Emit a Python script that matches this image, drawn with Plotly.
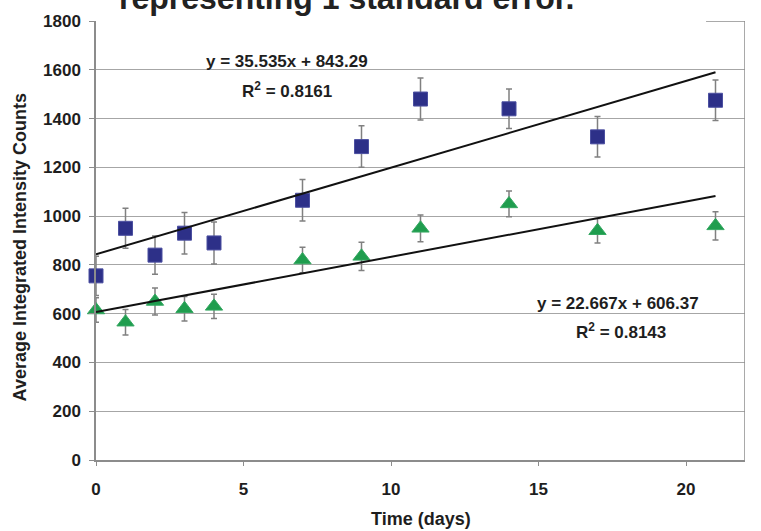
import plotly.graph_objects as go

# ---- data ----
days = [0, 1, 2, 3, 4, 7, 9, 11, 14, 17, 21]
blue_vals = [755, 950, 840, 930, 890, 1065, 1285, 1480, 1440, 1325, 1475]
blue_err = [80, 82, 78, 85, 86, 85, 85, 86, 81, 83, 83]
green_vals = [615, 565, 650, 620, 630, 820, 835, 950, 1050, 940, 960]
green_err = [50, 52, 55, 50, 50, 52, 58, 55, 53, 50, 58]

blue_fit = (35.535, 843.29)   # slope, intercept (from chart label)
green_fit = (22.667, 606.37)
fit_x = [0, 21]

blue_eq = "y = 35.535x + 843.29"
blue_r2 = "R<sup>2</sup> = 0.8161"
green_eq = "y = 22.667x + 606.37"
green_r2 = "R<sup>2</sup> = 0.8143"

x_ticks = [0, 5, 10, 15, 20]
y_ticks = [0, 200, 400, 600, 800, 1000, 1200, 1400, 1600, 1800]

title_text = "representing 1 standard error."
x_title = "Time (days)"
y_title = "Average Integrated Intensity Counts"

FONT = "Liberation Sans"
TXT = "#1e1e1e"
GRID = "#a6a6a6"
AXIS = "#8c8c8c"
BLUE = "#2d3088"
GREEN = "#1f9d4e"
ERR = "#808080"

fig = go.Figure()

fig.add_trace(go.Scatter(
    x=days, y=blue_vals, mode="markers",
    marker=dict(symbol="square", size=14, color=BLUE, line=dict(color="#4b4fa0", width=1)),
    error_y=dict(type="data", array=blue_err, visible=True, color=ERR, thickness=1.5, width=3),
    showlegend=False, cliponaxis=False))

fig.add_trace(go.Scatter(
    x=days, y=green_vals, mode="markers",
    marker=dict(symbol="triangle-up", size=15, color=GREEN, line=dict(color="#35a862", width=1)),
    error_y=dict(type="data", array=green_err, visible=True, color=ERR, thickness=1.5, width=3),
    showlegend=False, cliponaxis=False))

for slope, icpt in (blue_fit, green_fit):
    fig.add_trace(go.Scatter(
        x=fit_x, y=[icpt + slope * v for v in fit_x], mode="lines",
        line=dict(color="#111111", width=2), showlegend=False, hoverinfo="skip"))

# frame: right border, partial top border, white strip under the title
fig.add_shape(type="line", xref="x", yref="y", x0=22, x1=22, y0=0, y1=1800,
              line=dict(color=AXIS, width=1.5), layer="above")
fig.add_shape(type="rect", xref="paper", yref="paper", x0=0.004, x1=0.94, y0=0.992, y1=1.01,
              fillcolor="white", line=dict(width=0), layer="above")
fig.add_shape(type="line", xref="x", yref="y", x0=20.68, x1=22, y0=1800, y1=1800,
              line=dict(color=AXIS, width=1.5), layer="above")

ann_font = dict(family=FONT, size=17, color=TXT)
fig.add_annotation(x=6.47, y=1634, xref="x", yref="y", text="<b>" + blue_eq + "</b>",
                   showarrow=False, font=ann_font)
fig.add_annotation(x=6.47, y=1517, xref="x", yref="y", text="<b>" + blue_r2 + "</b>",
                   showarrow=False, font=ann_font)
fig.add_annotation(x=17.7, y=640, xref="x", yref="y", text="<b>" + green_eq + "</b>",
                   showarrow=False, font=ann_font)
fig.add_annotation(x=17.8, y=531, xref="x", yref="y", text="<b>" + green_r2 + "</b>",
                   showarrow=False, font=ann_font)

fig.add_annotation(x=(346 - 96) / 649, y=(460 - 10.5) / 446, xref="paper", yref="paper",
                   xanchor="center", yanchor="bottom", text="<b>" + title_text + "</b>",
                   showarrow=False, font=dict(family=FONT, size=32, color="#222222"))

fig.add_annotation(x=(421 - 96) / 649, y=(460 - 520) / 446, xref="paper", yref="paper",
                   xanchor="center", yanchor="middle", text="<b>" + x_title + "</b>",
                   showarrow=False, font=dict(family=FONT, size=18, color=TXT))
fig.add_annotation(x=(20 - 96) / 649, y=(460 - 244) / 446, xref="paper", yref="paper",
                   xanchor="center", yanchor="middle",
                   text="<b>" + y_title + "</b>", textangle=-90, showarrow=False,
                   font=dict(family=FONT, size=18, color=TXT))

fig.update_xaxes(range=[0, 22], tickvals=x_ticks, ticks="outside", ticklen=4, tickcolor=AXIS,
                 showline=True, linecolor=AXIS, linewidth=1.5, showgrid=False, zeroline=False,
                 tickfont=dict(family=FONT, size=17, color=TXT, weight="bold"),
                 ticklabelstandoff=9)
fig.update_yaxes(range=[0, 1800], tickvals=y_ticks, ticks="outside", ticklen=5, tickcolor=AXIS,
                 showline=True, linecolor=AXIS, linewidth=1.5, showgrid=True, gridcolor=GRID,
                 gridwidth=1.2, zeroline=False,
                 tickfont=dict(family=FONT, size=17, color=TXT, weight="bold"),
                 ticklabelstandoff=5)

fig.update_layout(width=761, height=531, margin=dict(l=96, r=16, t=14, b=71),
                  paper_bgcolor="white", plot_bgcolor="white")

fig.write_html("out.html", config={"displayModeBar": False},
               post_script="document.body.style.margin='0';")
